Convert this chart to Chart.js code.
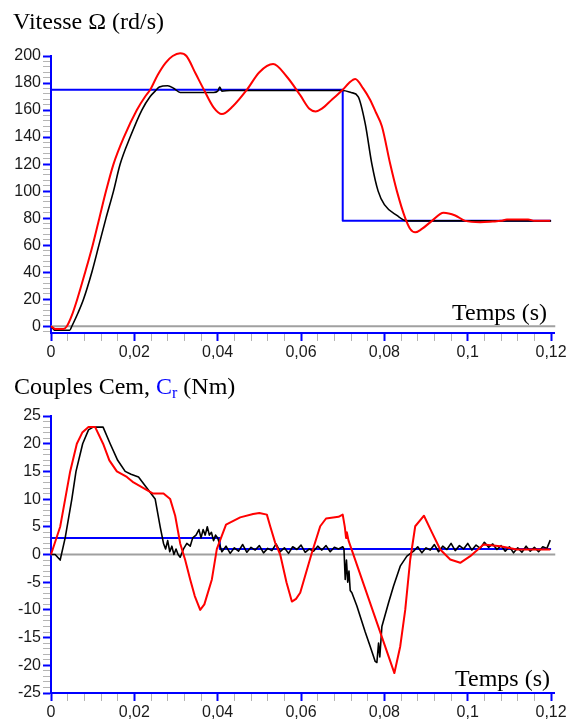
<!DOCTYPE html>
<html>
<head>
<meta charset="utf-8">
<script src="https://cdn.jsdelivr.net/npm/chart.js@4"></script>
<style>
  html, body { margin: 0; padding: 0; background: #fff; }
  #wrap { position: relative; width: 575px; height: 720px; overflow: hidden; }
  canvas { position: absolute; left: 0; }
  .t { position: absolute; font-family: "Liberation Serif", "Times New Roman", serif; font-size: 24px; line-height: 24px; color: #000; white-space: nowrap; }
  .blue { color: #0000ff; }
  sub { font-size: 16px; line-height: 0; vertical-align: -4px; }
</style>
</head>
<body>
<div id="wrap">
  <canvas id="c1" width="575" height="360" style="top:0"></canvas>
  <canvas id="c2" width="575" height="360" style="top:360px"></canvas>
  <div class="t" style="left:13px; top:9px;">Vitesse Ω (rd/s)</div>
  <div class="t" style="left:452px; top:300px;">Temps (s)</div>
  <div class="t" style="left:14px; top:374px;">Couples Cem, <span class="blue">C<sub>r</sub></span> (Nm)</div>
  <div class="t" style="left:455px; top:666px;">Temps (s)</div>
</div>
<script>
// ---------- Tick labels ----------
const timeTicks = [0, 0.02, 0.04, 0.06, 0.08, 0.1, 0.12];
const speedTicks = [0, 20, 40, 60, 80, 100, 120, 140, 160, 180, 200];
const torqueTicks = [-25, -20, -15, -10, -5, 0, 5, 10, 15, 20, 25];

// ---------- Speed chart (rd/s) ----------
const speedRefT = [0, 0.07, 0.07, 0.12];
const speedRefV = [175, 175, 78, 78];

const speedMeasT = [0, 0.001, 0.0045, 0.005, 0.0065, 0.0078, 0.0098, 0.0115, 0.0132, 0.015, 0.0166, 0.019, 0.0218, 0.0238, 0.025, 0.026, 0.028, 0.0295, 0.031, 0.039, 0.040, 0.0405, 0.041, 0.043, 0.07, 0.072, 0.0737, 0.0754, 0.077, 0.0785, 0.080, 0.083, 0.0854, 0.12];
const speedMeasV = [0, -3, -3, 0, 10, 20, 40, 60, 80, 100, 120, 140, 160, 170, 174, 177, 178, 176, 173, 173, 174, 177, 174, 174.5, 174.5, 173, 170, 150, 120, 100, 90, 82, 78, 78];

const speedEstT = [0, 0.001, 0.003, 0.0038, 0.005, 0.0063, 0.0082, 0.01, 0.0116, 0.0132, 0.015, 0.0175, 0.0206, 0.0226, 0.0238, 0.0256, 0.0275, 0.0292, 0.031, 0.0325, 0.0347, 0.0367, 0.039, 0.041, 0.0437, 0.047, 0.050, 0.0533, 0.0565, 0.0598, 0.062, 0.0635, 0.065, 0.0675, 0.070, 0.0715, 0.073, 0.0749, 0.0765, 0.078, 0.0794, 0.0814, 0.083, 0.085, 0.0862, 0.0874, 0.089, 0.0914, 0.0942, 0.097, 0.0994, 0.103, 0.106, 0.108, 0.1094, 0.1145, 0.116, 0.1198];
const speedEstV = [0, -2, -2, 0, 8, 20, 40, 60, 80, 100, 120, 140, 160, 170, 175, 186, 195, 200, 202, 200, 187, 175, 162, 157, 163, 175, 188, 194, 185, 171, 161, 159, 161, 168, 175, 180, 183, 176, 168, 158, 148, 120, 100, 80, 72, 69.5, 72, 78, 84, 82, 78, 77, 77.5, 78, 79, 79, 78, 78];

// ---------- Torque chart (Nm) ----------
const torqueLoadT = [0, 0.0405, 0.0405, 0.12];
const torqueLoadV = [3, 3, 1, 1];

const torqueMeasT = [0, 0.001, 0.0022, 0.0034, 0.005, 0.006, 0.0076, 0.009, 0.0101, 0.0125, 0.0142, 0.016, 0.0178, 0.0192, 0.021, 0.023, 0.025, 0.0262, 0.027,
  0.0275, 0.028, 0.0285, 0.029, 0.0295, 0.030, 0.0305, 0.031, 0.0318, 0.0326, 0.0334, 0.034, 0.0348, 0.0355, 0.036, 0.0365, 0.037, 0.0375, 0.038, 0.0385, 0.039, 0.0395, 0.040, 0.0404,
  0.041, 0.042, 0.043, 0.044, 0.045, 0.046, 0.047, 0.048, 0.049, 0.050, 0.051, 0.052, 0.053, 0.054, 0.055, 0.056, 0.057, 0.058, 0.059, 0.060, 0.061, 0.062, 0.063, 0.064, 0.065, 0.066, 0.067, 0.068, 0.069, 0.070,
  0.0703, 0.0706, 0.0709, 0.0712, 0.0715, 0.0718, 0.0722, 0.0734, 0.0754, 0.0766, 0.0778, 0.0782, 0.0786, 0.0789, 0.0794, 0.081, 0.0822, 0.0838, 0.0854,
  0.087, 0.088, 0.089, 0.090, 0.091, 0.092, 0.093, 0.094, 0.095, 0.096, 0.097, 0.098, 0.099, 0.100, 0.101, 0.102, 0.103, 0.104, 0.105, 0.106, 0.107, 0.108, 0.109, 0.110, 0.111, 0.112, 0.113, 0.114, 0.115, 0.116, 0.117, 0.118, 0.119, 0.1198];
const torqueMeasV = [0, 0, -1, 3, 10, 15, 20, 22.5, 23, 23, 20, 17, 15, 14.5, 14, 12, 10, 5, 2,
  1, 2.5, 0.5, 1.5, 0, 1, 0, -0.5, 1, 2, 1.5, 3, 3.5, 4.5, 3, 4.5, 3.5, 5, 3.5, 4, 2.5, 3.5, 3, 2,
  0.5, 1.5, 0.2, 1.2, 0.6, 1.8, 0.4, 1.3, 0.8, 1.6, 0.3, 1.1, 0.7, 1.9, 0.5, 1.2, 0.2, 1.4, 0.9, 1.7, 0.4, 1.0, 0.6, 1.5, 0.8, 1.6, 0.5, 1.3, 1.0, 1.4,
  1, -4.5, -1, -5, -3, -6.5, -6.9, -9.3, -14, -16.6, -19.3, -19.5, -16, -18.5, -13, -8.7, -5.7, -2.1, -0.3,
  0.6, 1.4, 0.3, 1.2, 0.8, 1.8, 0.5, 1.5, 0.9, 2.0, 0.7, 1.6, 1.0, 2.0, 0.8, 1.7, 1.1, 2.2, 1.3, 1.9, 0.9, 1.6, 0.6, 1.4, 0.3, 1.2, 0.4, 1.5, 0.6, 1.3, 0.5, 1.4, 1.1, 2.6];

const torqueEstT = [0, 0.0022, 0.0034, 0.0046, 0.0062, 0.0075, 0.009, 0.0106, 0.0125, 0.014, 0.0158, 0.0182, 0.0198, 0.0222, 0.0245, 0.027, 0.0286, 0.0298, 0.031, 0.0322, 0.0334, 0.0345, 0.0358, 0.0368, 0.0386, 0.0398, 0.042, 0.0454, 0.0485, 0.050, 0.0518, 0.0526, 0.0538, 0.055, 0.0565, 0.0578, 0.0588, 0.0598, 0.0626, 0.0646, 0.066, 0.069, 0.070, 0.0705, 0.0708, 0.071, 0.0714, 0.0824, 0.0838, 0.085, 0.0862, 0.0874, 0.0895, 0.0914, 0.0934, 0.0958, 0.0982, 0.1006, 0.1038, 0.1078, 0.1118, 0.1198];
const torqueEstV = [0, 5, 10, 15, 20, 22, 23, 23, 20, 17, 15, 14, 13, 12, 11, 11, 10, 7, 2, -1, -4.5, -7.5, -10, -9, -4.5, 1, 5.4, 6.7, 7.3, 7.5, 7.2, 5.1, 2.1, 0, -5, -8.5, -8, -6.9, 0.3, 5.1, 6.5, 6.8, 7.2, 5, 3, 4, 2.5, -21.4, -16.6, -10, -0.9, 5.1, 7, 4, 0.9, -0.9, -1.5, -0.3, 1.8, 1.5, 0.9, 0.9];

// ---------- helpers ----------
const pts = (t, v) => t.map((x, i) => ({ x, y: v[i] }));
const near = (a, list) => list.some(m => Math.abs(a - m) < 1e-9);
const fmt = v => String(Number(v.toFixed(4))).replace('.', ',');
const BLUE = '#0000ff', RED = '#ff0000', BLACK = '#000000', GRAY = '#a0a0a0', MINOR = '#b4b4b4';
const TICKFONT = { family: '"Liberation Sans", Arial, sans-serif', size: 16 };

function line(data, color, w, smooth) {
  const d = { data, borderColor: color, borderWidth: w, pointRadius: 0, tension: 0, fill: false, borderJoinStyle: 'round', clip: false };
  if (smooth) { d.cubicInterpolationMode = 'monotone'; }
  return d;
}

function makeChart(id, datasets, yMin, yMax, yMajors, yMinorStep) {
  const xMinorStep = 0.004;
  return new Chart(document.getElementById(id), {
    type: 'line',
    data: { datasets },
    options: {
      responsive: false, animation: false, parsing: true,
      layout: { padding: { top: 56, right: 21, left: 0, bottom: 0 } },
      plugins: { legend: { display: false }, tooltip: { enabled: false }, title: { display: false } },
      scales: {
        x: {
          type: 'linear', min: 0, max: 0.1207,
          afterFit: s => { s.height = 27; },
          afterBuildTicks: s => {
            const arr = [];
            for (let i = 0; i <= 30; i++) arr.push({ value: Math.round(i * xMinorStep * 1000) / 1000 });
            s.ticks = arr;
          },
          ticks: {
            autoSkip: false, maxRotation: 0, minRotation: 0, padding: 2,
            color: '#1a1a1a', font: TICKFONT,
            callback: v => near(v, timeTicks) ? fmt(v) : ''
          },
          grid: {
            drawOnChartArea: false, drawTicks: true, tickLength: 8,
            tickColor: c => near(c.tick.value, timeTicks) ? BLUE : MINOR,
            tickWidth: c => near(c.tick.value, timeTicks) ? 2 : 1
          },
          border: { display: true, color: BLUE, width: 2 }
        },
        y: {
          type: 'linear', min: yMin, max: yMax,
          afterFit: s => { s.width = 51; },
          afterBuildTicks: s => {
            const arr = [];
            for (let v = Math.ceil(yMin / yMinorStep) * yMinorStep; v <= yMax + 1e-9; v += yMinorStep) arr.push({ value: v });
            s.ticks = arr;
          },
          ticks: {
            autoSkip: false, padding: 2, color: '#1a1a1a', font: TICKFONT,
            callback: v => near(v, yMajors) ? String(v) : ''
          },
          grid: {
            drawOnChartArea: false, drawTicks: true, tickLength: 8,
            tickColor: c => near(c.tick.value, yMajors) ? BLUE : MINOR,
            tickWidth: c => near(c.tick.value, yMajors) ? 2 : 1
          },
          border: { display: true, color: BLUE, width: 2 }
        }
      }
    }
  });
}

makeChart('c1', [
  line(pts(speedEstT, speedEstV), RED, 2, true),
  line(pts(speedMeasT, speedMeasV), BLACK, 1.6, true),
  line(pts(speedRefT, speedRefV), BLUE, 2, false),
  line(pts([0, 0.121], [0, 0]), GRAY, 2, false)
], -5, 200, speedTicks, 4);

makeChart('c2', [
  line(pts(torqueEstT, torqueEstV), RED, 2, false),
  line(pts(torqueMeasT, torqueMeasV), BLACK, 1.6, false),
  line(pts(torqueLoadT, torqueLoadV), BLUE, 2, false),
  line(pts([0, 0.121], [0, 0]), GRAY, 2, false)
], -25, 25, torqueTicks, 1);
</script>
</body>
</html>
